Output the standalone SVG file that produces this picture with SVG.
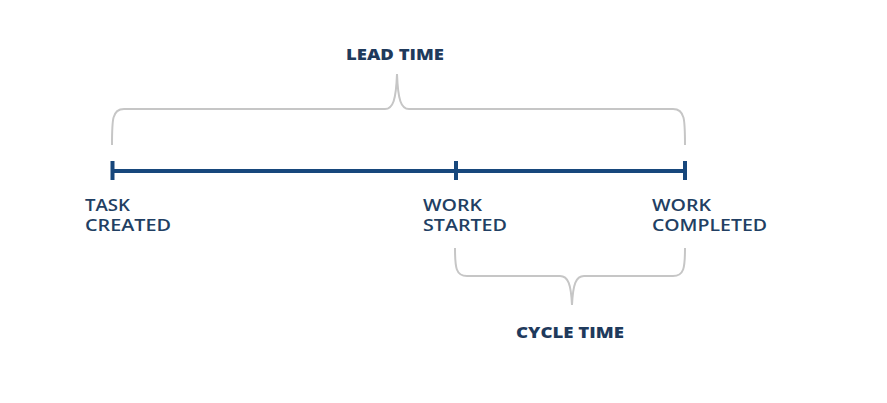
<svg xmlns="http://www.w3.org/2000/svg" width="887" height="403" viewBox="0 0 887 403">
<style>
.lbl{font-family:"Open Sans","DejaVu Sans","Liberation Sans",sans-serif;font-size:17px;font-weight:600;fill:#223f63;}
.ttl{font-family:"Open Sans","DejaVu Sans","Liberation Sans",sans-serif;font-size:15px;font-weight:800;fill:#1f3a5c;}
.brace{fill:none;stroke:#c6c6c6;stroke-width:2;}
.axis{stroke:#17477c;stroke-width:4;fill:none;}
</style>
<rect width="887" height="403" fill="#ffffff"/>
<g id="connectors">
<line class="axis" x1="112" y1="171" x2="685" y2="171"/>
<line class="axis" x1="112.5" y1="161" x2="112.5" y2="180" stroke-width="3.5"/>
<line class="axis" x1="456" y1="161" x2="456" y2="180" stroke-width="3.5"/>
<line class="axis" x1="685" y1="161" x2="685" y2="180" stroke-width="3.5"/>
<path id="lead-brace" class="brace" d="M112,145 C112,120 112,109 124,109 L385,109 C393,109 396,100 397,74 C398,100 401,109 409,109 L673,109 C685,109 685,120 685,145"/>
<path id="cycle-brace" class="brace" d="M455,248 C455,268 456,276 467,276 L560,276 C568,276 571,284 572,305 C573,284 576,276 584,276 L673,276 C684,276 685,268 685,248"/>
</g>
<g id="lead-time"><text class="ttl" x="346" y="60" textLength="98" lengthAdjust="spacingAndGlyphs">LEAD TIME</text></g>
<g id="cycle-time"><text class="ttl" x="516" y="338" textLength="108" lengthAdjust="spacingAndGlyphs">CYCLE TIME</text></g>
<g id="task-created">
<text class="lbl"><tspan x="85" y="211" textLength="45" lengthAdjust="spacingAndGlyphs">TASK</tspan><tspan x="85" y="231" textLength="86" lengthAdjust="spacingAndGlyphs">CREATED</tspan></text>
</g>
<g id="work-started">
<text class="lbl"><tspan x="423" y="211" textLength="59" lengthAdjust="spacingAndGlyphs">WORK</tspan><tspan x="423" y="231" textLength="84" lengthAdjust="spacingAndGlyphs">STARTED</tspan></text>
</g>
<g id="work-completed">
<text class="lbl"><tspan x="652" y="211" textLength="59" lengthAdjust="spacingAndGlyphs">WORK</tspan><tspan x="652" y="231" textLength="115" lengthAdjust="spacingAndGlyphs">COMPLETED</tspan></text>
</g>
</svg>
